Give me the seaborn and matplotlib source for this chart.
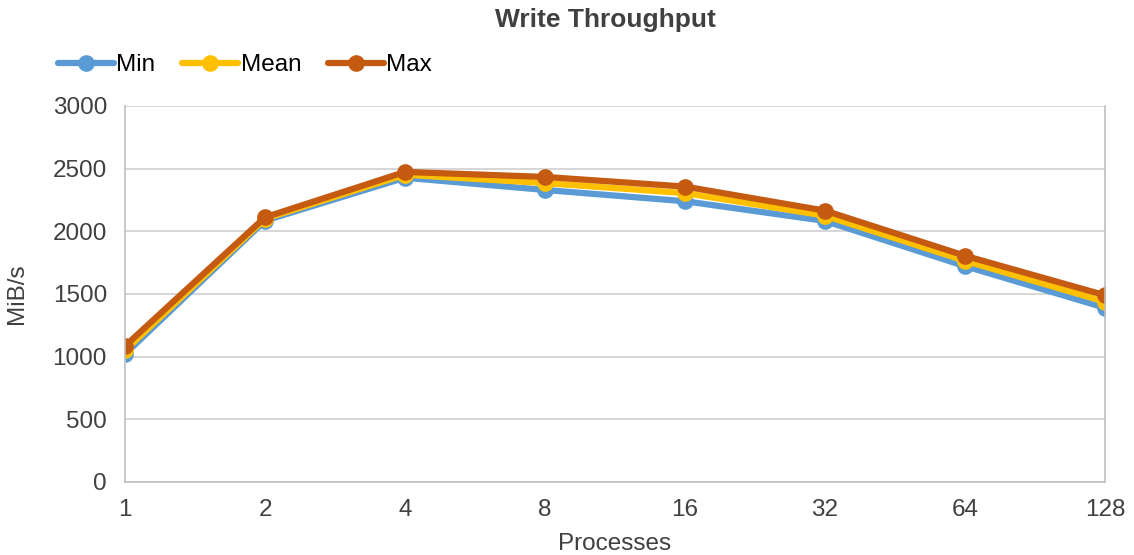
import matplotlib
matplotlib.use("Agg")
import matplotlib.pyplot as plt
import seaborn as sns
import pandas as pd

processes = ["1", "2", "4", "8", "16", "32", "64", "128"]
min_vals = [1020, 2085, 2428, 2330, 2240, 2083, 1722, 1390]
mean_vals = [1050, 2100, 2452, 2385, 2305, 2125, 1765, 1438]
max_vals = [1085, 2112, 2474, 2434, 2357, 2165, 1805, 1490]

series = {"Min": min_vals, "Mean": mean_vals, "Max": max_vals}
colors = {"Min": "#5B9BD5", "Mean": "#FFC000", "Max": "#C55A11"}

rows = []
for name, vals in series.items():
    for i, (p, v) in enumerate(zip(processes, vals)):
        rows.append({"pos": i, "Processes": p, "MiB/s": v, "Series": name})
df = pd.DataFrame(rows)

sns.set_theme(style="white")
plt.rcParams["font.family"] = ["Liberation Sans", "DejaVu Sans"]

fig = plt.figure(figsize=(11.34, 5.55), dpi=100)
ax = fig.add_axes([125 / 1134, 73 / 555, 980 / 1134, 376 / 555])

sns.lineplot(
    data=df, x="pos", y="MiB/s", hue="Series", palette=colors,
    hue_order=["Min", "Mean", "Max"], marker="o", markersize=12,
    markeredgewidth=0, linewidth=4.5, ax=ax, legend=True,
)

grid_c = "#D0D0D0"
ax.set_xlim(0, len(processes) - 1)
ax.set_ylim(0, 3000)
ax.set_yticks(range(0, 3001, 500))
ax.set_xticks(range(len(processes)))
ax.set_xticklabels(processes)
ax.yaxis.grid(True, color=grid_c, linewidth=1.2)
ax.set_axisbelow(True)
for side in ["left", "right", "bottom"]:
    ax.spines[side].set_color("#BFBFBF")
    ax.spines[side].set_linewidth(1.2)
ax.spines["top"].set_visible(False)
ax.tick_params(axis="both", which="both", length=6, width=1.2, color="#BFBFBF",
               labelsize=17.5, labelcolor="#404040", direction="out", pad=6)
ax.tick_params(axis="y", pad=7)
ax.set_xlabel("Processes", fontsize=17.5, color="#404040", labelpad=9)
ax.set_ylabel("MiB/s", fontsize=17.5, color="#404040", labelpad=18)

fig.text(605 / 1134, 1 - 20 / 555, "Write Throughput", ha="center", va="center",
         fontsize=19, fontweight="bold", color="#404040")

handles, labels = ax.get_legend_handles_labels()
ax.legend(handles, labels, loc="center left", bbox_to_anchor=(46 / 1134, 1 - 65 / 555),
          bbox_transform=fig.transFigure, ncol=3, frameon=False, fontsize=17.5,
          handlelength=2.3, handletextpad=0.1, columnspacing=1.1, labelcolor="#000000",
          borderpad=0)

fig.savefig("out.png", dpi=100)
